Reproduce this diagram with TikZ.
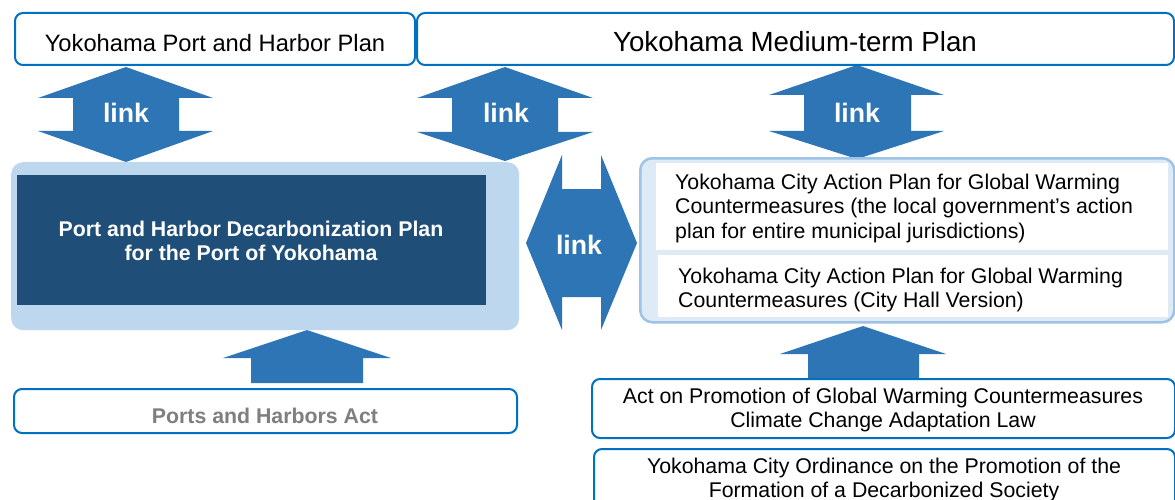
\documentclass[tikz,border=0pt]{standalone}
\usepackage{fontspec}
\setmainfont{Liberation Sans}
\definecolor{boxblue}{HTML}{0070C0}
\definecolor{arrowblue}{HTML}{2E75B6}
\definecolor{lightgrp}{HTML}{BDD7EE}
\definecolor{darkblue}{HTML}{1F4E79}
\definecolor{palebg}{HTML}{DEEBF7}
\definecolor{paleborder}{HTML}{9DC3E6}
\definecolor{graytext}{HTML}{7F7F7F}
\newcommand\fsnorm{\fontsize{21.3pt}{24.5pt}\selectfont}
\newcommand\fstop{\fontsize{23.7pt}{27pt}\selectfont}
\newcommand\fsbig{\fontsize{27.7pt}{32pt}\selectfont}
\newcommand\fslink{\fontsize{26.7pt}{30pt}\selectfont\bfseries}
\begin{document}
\begin{tikzpicture}[x=1pt,y=-1pt,
  plainbox/.style={draw=boxblue, line width=2pt, rounded corners=8pt, fill=white, inner sep=0pt, anchor=north west},
  arrowshape/.style={fill=arrowblue},
  linktext/.style={text=white, font=\fslink, anchor=base, inner sep=0pt},
  normtext/.style={font=\fsnorm, anchor=base, inner sep=0pt},
  boldtext/.style={font=\fsnorm\bfseries, anchor=base, inner sep=0pt}]
\clip (0,0) rectangle (1175,500);
\fill[white] (0,0) rectangle (1175,500);

% arrows
\fill[arrowshape] (126,67) -- (213,98) -- (179,98) -- (179,131) -- (213,131) -- (126,162) -- (38,131) -- (73,131) -- (73,98) -- (38,98) -- cycle;
\fill[arrowshape] (505,67) -- (593,98) -- (558,98) -- (558,132) -- (593,132) -- (505,161) -- (417,132) -- (452,132) -- (452,98) -- (417,98) -- cycle;
\fill[arrowshape] (857,65) -- (944,95) -- (911,95) -- (911,131) -- (944,131) -- (857,159) -- (769,131) -- (804,131) -- (804,95) -- (769,95) -- cycle;
\fill[arrowshape] (526,243) -- (562,155) -- (562,189) -- (601,189) -- (601,155) -- (637,243) -- (601,330) -- (601,297) -- (562,297) -- (562,330) -- cycle;
\fill[arrowshape] (307,330) -- (391,358) -- (363,358) -- (363,383) -- (251,383) -- (251,358) -- (223,358) -- cycle;
\fill[arrowshape] (863,326) -- (946,354) -- (919,354) -- (919,378) -- (808,378) -- (808,354) -- (780,354) -- cycle;

\node[linktext] (l1) at (126,123) {link};
\node[linktext] (l2) at (506,123) {link};
\node[linktext] (l3) at (857,123) {link};
\node[linktext] (l4) at (579,254) {link};

% top boxes
\node[plainbox, minimum width=400pt, minimum height=52pt] (portplan) at (14,12) {};
\node[normtext, font=\fstop] (portplant) at (215,52) {Yokohama Port and Harbor Plan};
\node[plainbox, minimum width=757pt, minimum height=52pt] (midplan) at (416,12) {};
\node[normtext, font=\fsbig] (midplant) at (795,52) {Yokohama Medium-term Plan};

% left group
\node[fill=lightgrp, rounded corners=12pt, inner sep=0pt, anchor=north west, minimum width=508pt, minimum height=168pt] (lgrp) at (11,162) {};
\node[fill=darkblue, inner sep=0pt, anchor=north west, minimum width=469pt, minimum height=130pt] (decarb) at (17,175) {};
\node[boldtext, text=white] (dc1) at (251,236) {Port and Harbor Decarbonization Plan};
\node[boldtext, text=white] (dc2) at (251,260) {for the Port of Yokohama};

% right group
\node[fill=palebg, draw=paleborder, line width=2.5pt, rounded corners=12pt, inner sep=0pt, anchor=north west, minimum width=534pt, minimum height=164pt] (rgrp) at (639,157) {};
\node[fill=white, inner sep=0pt, anchor=north west, minimum width=512pt, minimum height=87pt] (ap1) at (656,163) {};
\node[fill=white, inner sep=0pt, anchor=north west, minimum width=510pt, minimum height=62pt] (ap2) at (658,255) {};
\node[normtext, anchor=base west] (ap1a) at (675,189) {Yokohama City Action Plan for Global Warming};
\node[normtext, anchor=base west] (ap1b) at (675,213.5) {Countermeasures (the local government’s action};
\node[normtext, anchor=base west] (ap1c) at (675,238) {plan for entire municipal jurisdictions)};
\node[normtext, anchor=base west] (ap2a) at (678,283) {Yokohama City Action Plan for Global Warming};
\node[normtext, anchor=base west] (ap2b) at (678,307) {Countermeasures (City Hall Version)};

% bottom boxes
\node[plainbox, minimum width=503pt, minimum height=44pt] (ports) at (13,388) {};
\node[boldtext, text=graytext] (portst) at (265,423) {Ports and Harbors Act};
\node[plainbox, minimum width=583pt, minimum height=59pt] (act) at (591,378) {};
\node[normtext] (act1) at (883,403) {Act on Promotion of Global Warming Countermeasures};
\node[normtext] (act2) at (883,427) {Climate Change Adaptation Law};
\node[plainbox, minimum width=581pt, minimum height=70pt] (ord) at (593,448) {};
\node[normtext] (ord1) at (884,473) {Yokohama City Ordinance on the Promotion of the};
\node[normtext] (ord2) at (884,497) {Formation of a Decarbonized Society};
\end{tikzpicture}
\end{document}
